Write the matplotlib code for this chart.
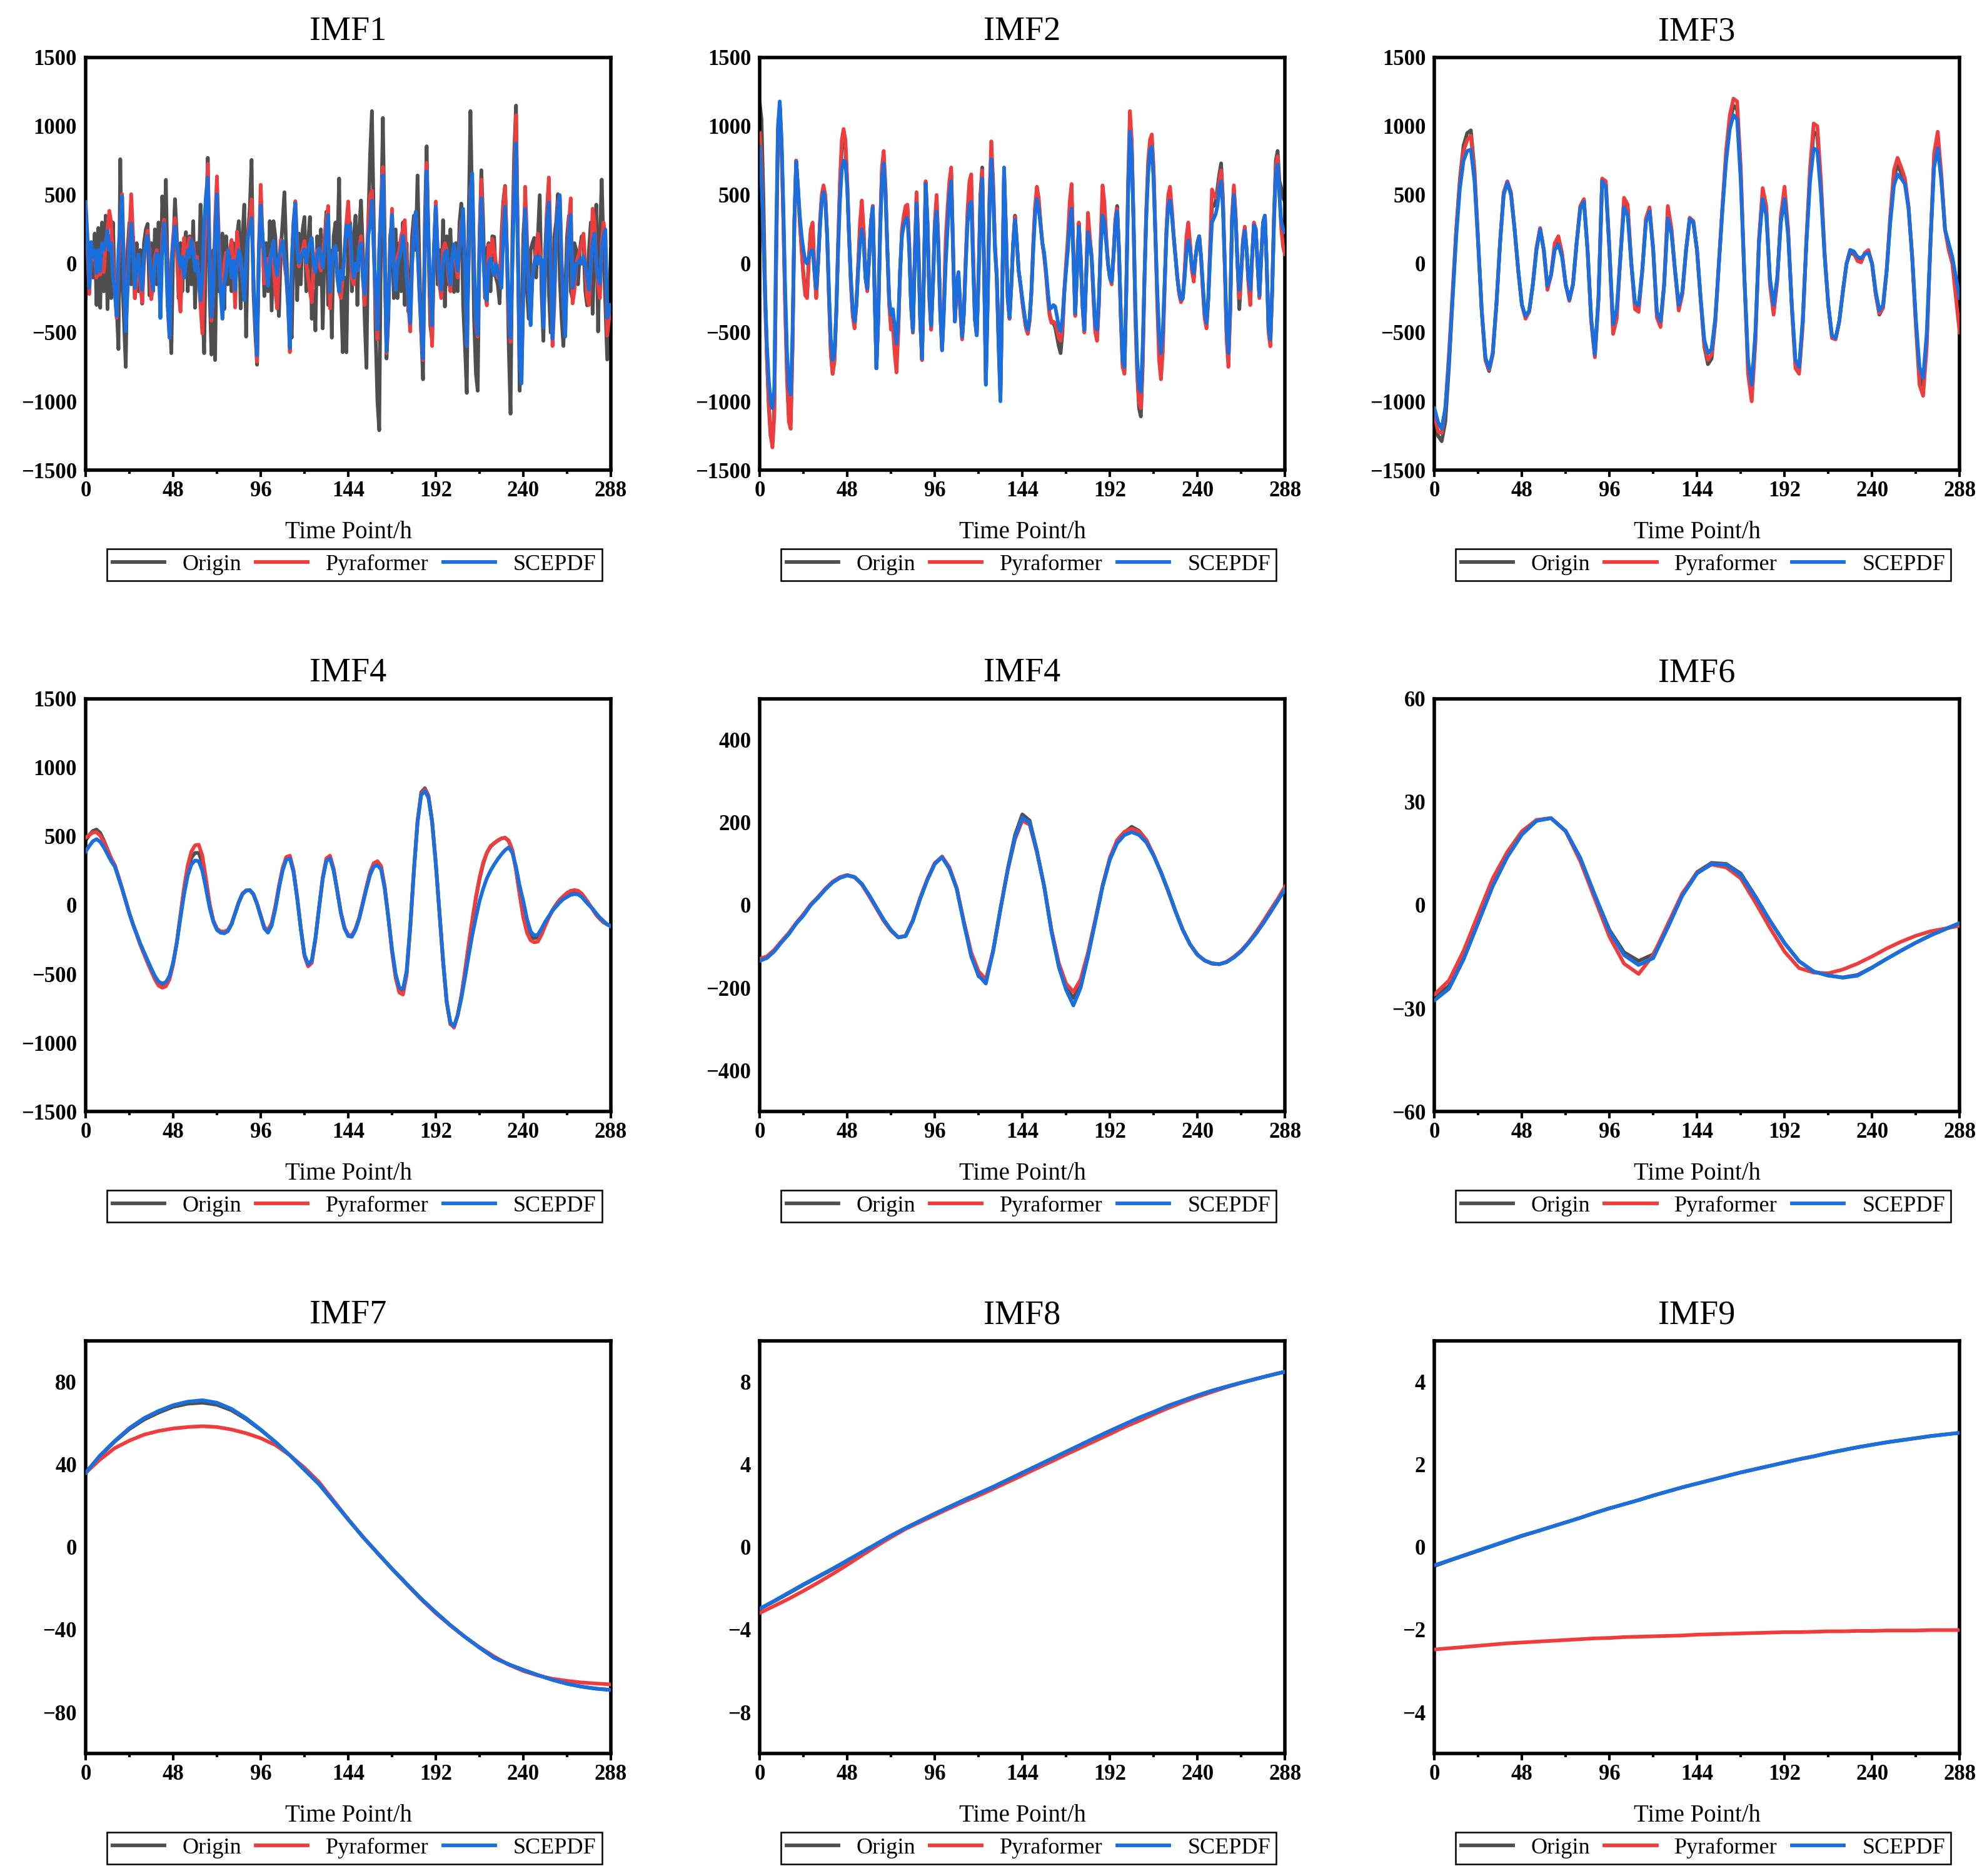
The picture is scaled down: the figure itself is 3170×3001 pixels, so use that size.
import numpy as np
import matplotlib.pyplot as plt
from matplotlib.ticker import MultipleLocator

plt.rcParams['font.family'] = ['Liberation Serif', 'DejaVu Serif']
plt.rcParams['font.weight'] = 'bold'

c_origin = '#4f4f4f'
c_pyra = '#ef3d3d'
c_scepdf = '#1a6fdf'

# ---------------- IMF1 (hourly, t = 0..288) ----------------
imf1_origin = [
    -250, 100, -150, 150, -100, 220, -300, 260, -320, 300, -200, 350,
    -330, 200, -250, 300, -200, -300, -620, 760, -100, -400, -750, 100,
    300, -150, 200, -250, 150, -200, 100, -290, 150, 250, 290, -230,
    150, -200, 250, -150, 300, -390, 490, 100, 610, -100, -300, -650,
    100, 470, 200, -250, 150, -200, 100, 230, -200, 200, -150, 310,
    -320, 150, -100, 430, -300, -650, 200, 770, -200, -660, 100, -700,
    300, -200, 150, 220, -330, 200, -150, 100, -200, 150, -250, 200,
    310, -325, 200, 430, -530, 200, 400, 755, -200, -500, -734, 100,
    350, 200, -235, 150, -200, 310, -340, 310, 200, -150, -380, 100,
    300, 520, 100, -250, -400, -537, 100, 350, -265, 219, -150, 250,
    340, -200, 150, 340, -400, -200, -485, 200, -150, 250, -470, 150,
    378, -300, 100, -537, 200, 300, 100, 620, -200, -643, -100, -644,
    200, 300, -200, 200, 350, -300, 250, 460, 100, -400, -757, 300,
    800, 1110, 300, -500, -1000, -1210, 300, 1060, 200, -689, -400, 200,
    300, -250, 250, -250, 150, -200, 300, -300, 150, -350, -200, 200,
    350, 100, 642, 0, -500, -840, 300, 854, 100, -450, -550, 100,
    400, -150, 100, -200, 317, -311, 200, -150, 250, -100, -205, 150,
    -200, 300, 438, -300, -600, -939, 300, 1110, 400, -400, -800, -923,
    200, 680, 300, -250, 100, 150, -200, 200, 196, -100, -150, -288,
    200, 450, 566, 100, -600, -1090, 200, 800, 1150, 100, -923, -500,
    200, 450, -200, -400, 100, 150, 188, -100, 200, 499, -200, -560,
    100, 400, -200, -500, -300, 200, 300, 506, -100, -400, -598, -200,
    200, 350, -200, -250, 150, 100, -150, 100, 200, 150, -200, -303,
    100, 300, -364, 100, 430, -492, 200, 612, 100, -300, -696, -300,
    100]
imf1_pyra = [
    300, 100, -220, 80, 30, 60, -100, 50, -80, 40, -60, 150,
    250, 385, 300, 0, -200, -394, 0, 250, 506, 0, -450, -150,
    200, 506, 200, -250, -100, 50, -150, -280, 0, 150, 241, 100,
    -258, -150, 50, 100, 0, -300, 200, 320, 150, -300, -537, 0,
    200, 332, 100, -200, -348, 0, 188, 50, 100, 188, 100, 150,
    0, 50, -100, -300, -507, 0, 400, 726, 100, -416, -200, 300,
    635, 200, -150, -300, 0, 82, 50, 100, 173, 0, -318, 234,
    100, 0, -100, -250, 0, 200, 300, 468, -100, -400, -711, 100,
    574, 200, -144, 0, 37, 37, 100, 0, -200, -325, 0, 173,
    100, 0, -100, -300, -643, 0, 300, 455, 150, -20, 50, 100,
    166, 0, -100, -200, -280, 0, 50, 100, 0, -50, 50, 200,
    300, 420, -325, 0, 100, 113, -50, -200, -250, -100, 100, 300,
    453, 200, -100, -150, 0, -50, 100, 200, -100, -300, 0, 300,
    500, 530, 100, -300, -550, 100, 450, 703, 0, -650, -300, 100,
    400, 0, -150, 50, 100, 200, 250, 317, 0, -300, -492, 0,
    250, 378, 150, -200, -500, -700, 150, 733, 200, -300, -598, 100,
    453, 100, -150, -250, 100, 150, 100, -100, -200, 50, 100, 0,
    -100, 150, 300, 350, 0, -600, 0, 550, 600, 0, -450, -530,
    200, 612, 100, -200, -303, 135, 50, 181, 100, 0, -100, -50,
    100, 400, 560, 100, -400, -568, 0, 600, 1080, 200, -700, -850,
    -200, 560, 200, -200, -400, -100, 0, 100, 219, 100, 0, -400,
    0, 400, 627, 100, -598, -300, 200, 450, 480, 0, -300, -500,
    0, 300, 476, -288, -200, 0, 50, 100, 150, 219, 0, -250,
    -300, 0, 400, 300, 0, -150, -250, 150, 300, 200, -522, -400,
    -300]
imf1_scepdf = [
    450, 200, -175, 158, 50, 100, -68, 100, -50, 150, 100, 150,
    241, 100, 150, -100, -200, -380, 100, 300, 490, -100, -492, -200,
    100, 294, 100, -175, 0, 67, -100, -190, 50, 150, 203, 50,
    -100, -190, 0, 75, 50, -394, 100, 294, 100, -300, -537, 0,
    150, 272, 150, 50, -23, 50, -100, 0, 100, 50, 173, 100,
    -50, 22, -100, -265, -100, 300, 500, 627, 0, -386, -200, 200,
    506, 100, -200, -400, -150, -68, 100, 22, -100, 22, -190, 0,
    100, 52, -100, -265, 0, 200, 250, 332, -100, -400, -666, 100,
    423, 200, 71, -50, -160, 0, 100, 166, 0, -84, 50, 100,
    166, 50, -54, -300, -613, 0, 300, 438, 100, 7, 50, 80,
    105, 7, 100, 150, 188, 0, -60, 50, 113, 50, -30, 100,
    250, 355, -205, 0, 100, 128, -100, -205, -50, -114, 100, 280,
    200, 280, 7, -100, 0, -50, 100, 150, -100, -220, 0, 200,
    300, 460, 100, -200, -477, 100, 400, 642, 0, -636, -300, 100,
    355, 0, -190, 0, 37, 100, 203, 100, -100, -250, -432, 0,
    200, 378, 100, -200, -450, -689, 100, 672, 200, -200, -447, 100,
    415, 100, -100, -190, 0, 80, 97, -50, -150, 50, 143, 50,
    -50, 100, 250, 400, 0, -598, 0, 500, 657, 0, -400, -515,
    100, 476, 100, -200, -265, 0, 37, -30, -84, 0, -50, -100,
    -175, 200, 415, 100, -300, -537, 0, 500, 877, 100, -700, -870,
    -200, 400, 100, -200, -447, -100, 0, 52, 0, 50, 30, -462,
    0, 300, 446, 0, -545, -200, 200, 400, 499, 0, -300, -530,
    0, 200, 355, -175, -100, 0, 7, 30, 0, 52, 0, -100,
    -190, 0, 150, 219, 0, -100, -144, 100, 200, 249, -394, -350,
    -300]

# ---------------- IMF2 (hourly) ----------------
imf2_origin = [
    1170, 1050, 500, -200, -700, -1050, -1250, -1300, -1050, 0, 950, 1150,
    850, 300, -300, -800, -1100, -1150, -600, 300, 750, 550, 300, 100,
    -80, -200, -220, 50, 230, 280, -50, -230, 0, 280, 480, 550,
    480, 200, -250, -650, -800, -700, -350, 130, 560, 830, 900, 850,
    580, 200, -130, -360, -450, -300, -20, 250, 400, 220, -100, -190,
    50, 300, 420, -200, -760, -400, 230, 660, 780, 530, 100, -280,
    -440, -400, -580, -720, -460, -50, 230, 320, 380, 400, 130, -300,
    -500, 30, 490, 130, -400, -700, -100, 590, 300, -230, -470, -150,
    280, 450, 130, -350, -620, -320, 100, 330, 550, 660, 130, -420,
    -180, -80, -330, -540, -350, 30, 360, 530, 560, 60, -400, -520,
    -100, 500, 700, 0, -860, -270, 460, 830, 560, 130, -100, -570,
    -970, -200, 670, 250, -250, -400, -150, 150, 350, 160, -50, -150,
    -270, -370, -460, -500, -410, -200, 130, 390, 520, 450, 290, 150,
    60, -70, -230, -370, -420, -430, -460, -530, -600, -650, -500, -220,
    -20, 150, 380, 500, 80, -370, -50, 290, 50, -300, -490, -100,
    300, 180, 50, -230, -480, -530, -280, 150, 470, 380, 180, 0,
    -100, -140, 60, 320, 420, 100, -380, -730, -780, -200, 550, 1040,
    850, 300, -350, -800, -1050, -1110, -750, -100, 380, 700, 860, 900,
    650, 200, -250, -600, -750, -580, -180, 230, 460, 510, 380, 200,
    50, -100, -210, -270, -250, -80, 150, 240, 130, -40, -100, 50,
    150, 200, 50, -180, -380, -450, -250, 100, 420, 420, 450, 550,
    650, 730, 480, 0, -500, -700, -330, 330, 540, 330, 0, -330,
    -80, 160, 250, 100, -130, -250, 50, 290, 250, 0, -240, 50,
    300, 350, 0, -480, -580, -200, 330, 750, 820, 600, 550, 480,
    450]
imf2_pyra = [
    950, 700, 250, -300, -700, -1000, -1250, -1335, -1100, 0, 950, 1150,
    850, 300, -350, -850, -1150, -1200, -600, 300, 750, 550, 300, 100,
    -100, -230, -250, 50, 250, 300, -50, -250, 0, 300, 500, 570,
    500, 200, -250, -650, -800, -700, -350, 150, 600, 900, 980, 900,
    600, 200, -150, -380, -470, -300, 0, 300, 460, 250, -100, -200,
    50, 300, 420, -200, -760, -400, 250, 700, 820, 550, 100, -300,
    -480, -450, -650, -790, -500, -50, 250, 350, 420, 430, 150, -300,
    -500, 50, 520, 150, -400, -700, -100, 600, 300, -250, -480, -150,
    300, 500, 150, -350, -620, -300, 180, 400, 600, 700, 150, -420,
    -200, -100, -350, -550, -350, 50, 400, 600, 650, 100, -400, -520,
    -100, 450, 680, 0, -850, -250, 500, 890, 600, 150, -100, -550,
    -950, -200, 650, 250, -250, -400, -150, 150, 340, 150, -50, -150,
    -280, -380, -470, -510, -420, -200, 150, 420, 560, 480, 300, 150,
    50, -80, -250, -380, -430, -420, -430, -480, -540, -560, -450, -200,
    0, 200, 450, 580, 100, -380, -50, 300, 50, -300, -500, -100,
    370, 200, 50, -250, -500, -560, -300, 200, 570, 450, 200, 0,
    -100, -150, 50, 300, 400, 100, -400, -750, -800, -200, 600, 1110,
    900, 300, -400, -800, -1000, -1050, -700, -100, 400, 750, 900, 940,
    700, 200, -300, -700, -840, -650, -200, 250, 500, 560, 400, 200,
    50, -100, -220, -280, -250, -50, 200, 300, 150, -50, -130, 50,
    150, 200, 50, -200, -400, -470, -250, 150, 540, 500, 480, 500,
    600, 680, 450, 0, -550, -750, -350, 350, 570, 350, 0, -250,
    -50, 180, 270, 100, -150, -300, 50, 300, 250, 0, -250, 50,
    300, 350, 0, -500, -600, -200, 350, 700, 780, 500, 250, 120,
    70]
imf2_scepdf = [
    850, 600, 200, -250, -600, -850, -1000, -1050, -900, 200, 1000, 1180,
    900, 400, -200, -650, -900, -950, -500, 300, 740, 550, 350, 200,
    100, 20, 0, 50, 90, 100, -50, -180, 0, 250, 450, 520,
    450, 200, -200, -550, -700, -650, -350, 100, 450, 680, 750, 740,
    550, 200, -100, -330, -420, -300, -50, 150, 250, 150, -100, -180,
    50, 300, 410, -200, -760, -400, 200, 600, 730, 500, 100, -250,
    -370, -330, -450, -580, -400, -50, 200, 280, 320, 330, 100, -300,
    -490, 0, 440, 100, -400, -690, -100, 580, 300, -200, -450, -150,
    250, 380, 100, -350, -630, -350, 0, 250, 480, 600, 100, -420,
    -150, -60, -300, -530, -350, 0, 300, 430, 450, 0, -400, -520,
    -100, 400, 620, 0, -880, -300, 400, 760, 500, 100, -100, -600,
    -1000, -200, 700, 250, -250, -390, -150, 150, 320, 150, -50, -150,
    -250, -350, -440, -480, -400, -200, 100, 350, 470, 400, 280, 150,
    80, -50, -200, -330, -320, -300, -310, -380, -460, -490, -400, -200,
    -50, 100, 300, 400, 50, -360, -50, 270, 50, -300, -480, -100,
    230, 150, 50, -200, -450, -480, -250, 100, 350, 300, 150, 0,
    -100, -130, 50, 280, 380, 100, -350, -700, -750, -200, 500, 960,
    800, 300, -300, -700, -900, -930, -600, -100, 350, 650, 820, 850,
    600, 200, -200, -500, -650, -500, -150, 200, 420, 460, 350, 200,
    50, -100, -200, -260, -250, -100, 80, 170, 100, -20, -70, 50,
    150, 200, 50, -150, -350, -430, -250, 50, 300, 330, 360, 420,
    550, 600, 400, 0, -450, -650, -300, 300, 500, 300, 0, -190,
    -50, 150, 240, 100, -100, -190, 50, 280, 250, 0, -230, 50,
    300, 350, 0, -450, -550, -200, 300, 650, 720, 500, 300, 250,
    230]

# ---------------- IMF3 (every 2 h) ----------------
imf3_origin = [
    -1110, -1250, -1290, -1150, -750, -250, 250, 620, 860, 950, 970, 680,
    170, -350, -700, -780, -660, -300, 150, 510, 595, 510, 250, -50,
    -300, -390, -345, -150, 110, 255, 100, -175, -80, 125, 170, 65,
    -150, -265, -150, 150, 410, 460, 100, -410, -670, -250, 610, 580,
    100, -475, -365, 50, 445, 390, 0, -305, -325, -50, 315, 395,
    100, -370, -440, -150, 375, 240, -55, -320, -210, 100, 330, 305,
    100, -260, -600, -730, -690, -430, 0, 415, 790, 1030, 1150, 1120,
    650, -100, -750, -950, -540, 165, 510, 385, -125, -335, -115, 325,
    515, 225, -310, -730, -775, -425, 165, 650, 960, 930, 550, 65,
    -300, -530, -545, -420, -200, 0, 80, 70, 30, 20, 75, 90,
    0, -220, -370, -320, -50, 330, 630, 720, 660, 600, 410, 50,
    -420, -820, -900, -550, 150, 750, 900, 620, 250, 120, 20, -180,
    -380]
imf3_pyra = [
    -1100, -1220, -1230, -1050, -650, -200, 250, 600, 820, 900, 930, 650,
    150, -350, -700, -770, -650, -300, 150, 520, 600, 520, 250, -50,
    -300, -400, -350, -150, 120, 260, 100, -190, -80, 150, 200, 80,
    -150, -270, -150, 150, 420, 470, 100, -420, -680, -250, 620, 600,
    100, -510, -400, 50, 480, 430, 0, -330, -350, -50, 330, 410,
    100, -390, -460, -150, 420, 260, -60, -340, -220, 100, 335, 310,
    100, -250, -580, -700, -660, -420, 0, 430, 830, 1080, 1200, 1180,
    700, -100, -800, -1000, -580, 180, 550, 420, -150, -370, -130, 350,
    560, 250, -320, -760, -800, -450, 180, 700, 1020, 1000, 600, 80,
    -300, -540, -550, -420, -200, 0, 100, 80, 20, 10, 80, 100,
    0, -220, -360, -320, -50, 350, 680, 770, 700, 620, 420, 50,
    -450, -880, -960, -600, 150, 800, 960, 650, 250, 100, 0, -250,
    -500]
imf3_scepdf = [
    -1050, -1150, -1200, -1050, -700, -250, 200, 550, 750, 820, 830, 600,
    150, -350, -680, -760, -650, -300, 150, 500, 590, 500, 250, -50,
    -300, -380, -340, -150, 100, 250, 100, -160, -80, 100, 140, 50,
    -150, -260, -150, 150, 400, 450, 100, -400, -660, -250, 600, 560,
    100, -440, -330, 50, 410, 350, 0, -280, -300, -50, 300, 380,
    100, -350, -420, -150, 330, 220, -50, -300, -200, 100, 325, 300,
    100, -250, -550, -650, -620, -400, 0, 400, 750, 980, 1080, 1050,
    600, -100, -700, -880, -500, 150, 470, 350, -100, -300, -100, 300,
    470, 200, -300, -700, -750, -400, 150, 600, 840, 820, 500, 50,
    -300, -520, -540, -420, -200, 0, 100, 90, 50, 40, 70, 80,
    0, -200, -340, -300, -50, 300, 570, 650, 620, 580, 400, 50,
    -400, -750, -830, -500, 150, 700, 840, 600, 250, 150, 50, -100,
    -250]

# ---------------- IMF4 (every 2 h) ----------------
imf4_origin = [
    470, 510, 540, 550, 525, 470, 405, 340, 290, 205, 120, 30,
    -60, -140, -210, -285, -350, -415, -475, -530, -570, -585, -575, -530,
    -425, -270, -75, 115, 260, 345, 380, 380, 310, 160, 0, -115,
    -175, -195, -198, -185, -138, -58, 22, 83, 106, 110, 80, 10,
    -78, -165, -190, -140, -20, 130, 260, 340, 350, 248, 55, -170,
    -365, -440, -410, -245, -20, 195, 330, 350, 258, 102, -58, -168,
    -220, -225, -175, -95, 15, 128, 235, 300, 315, 280, 130, -90,
    -330, -515, -620, -630, -495, -160, 250, 610, 820, 850, 795, 610,
    305, -50, -405, -705, -865, -885, -800, -665, -490, -300, -120, 50,
    190, 300, 380, 425, 450, 470, 485, 490, 465, 395, 255, 80,
    -80, -180, -230, -240, -235, -195, -140, -85, -35, 5, 40, 65,
    85, 100, 102, 98, 78, 45, 8, -30, -70, -100, -125, -140,
    -150]
imf4_pyra = [
    490, 510, 528, 530, 505, 460, 400, 340, 290, 210, 120, 30,
    -60, -140, -215, -290, -355, -420, -480, -540, -585, -600, -590, -540,
    -430, -270, -70, 130, 290, 390, 435, 440, 360, 190, 10, -110,
    -170, -190, -192, -180, -135, -55, 25, 85, 108, 110, 80, 10,
    -75, -160, -182, -130, -10, 140, 270, 350, 360, 255, 60, -170,
    -370, -445, -420, -250, -20, 200, 340, 360, 265, 105, -55, -165,
    -215, -220, -170, -90, 20, 135, 240, 305, 320, 285, 135, -90,
    -340, -530, -635, -650, -510, -165, 250, 610, 810, 840, 790, 610,
    310, -50, -410, -710, -860, -890, -800, -660, -480, -290, -110, 60,
    200, 310, 380, 430, 450, 470, 485, 490, 470, 400, 260, 80,
    -90, -200, -255, -270, -265, -215, -150, -90, -40, 0, 35, 65,
    90, 105, 110, 105, 85, 50, 10, -30, -70, -100, -125, -140,
    -150]
imf4_scepdf = [
    390, 430, 465, 480, 460, 420, 370, 320, 280, 200, 120, 30,
    -60, -140, -210, -280, -340, -400, -460, -515, -555, -570, -560, -515,
    -415, -275, -95, 80, 215, 295, 325, 320, 250, 120, -20, -120,
    -180, -200, -205, -190, -140, -60, 20, 80, 105, 110, 80, 10,
    -80, -170, -200, -150, -30, 120, 250, 330, 340, 240, 50, -170,
    -360, -430, -400, -240, -20, 190, 320, 340, 250, 100, -60, -170,
    -225, -230, -180, -100, 10, 120, 220, 280, 290, 260, 120, -90,
    -320, -500, -600, -610, -480, -150, 250, 600, 800, 830, 780, 600,
    300, -50, -400, -700, -850, -880, -800, -680, -530, -370, -220, -90,
    30, 120, 195, 250, 295, 335, 370, 400, 420, 380, 280, 140,
    30, -100, -190, -220, -215, -170, -120, -80, -40, -10, 20, 44,
    60, 75, 80, 78, 60, 30, 0, -25, -60, -90, -115, -140,
    -155]

# ---------------- IMF5 (titled IMF4 in the figure, every 4 h) ----------------
imf5_origin = [
    -132, -126, -110, -88, -68, -44, -23, 1, 19, 39, 56, 67,
    73, 68, 51, 23, -7, -37, -61, -78, -75, -37, 17, 63,
    101, 117, 90, 41, -43, -120, -172, -185, -112, -10, 88, 170,
    220, 205, 132, 46, -62, -145, -200, -225, -190, -120, -38, 46,
    113, 155, 176, 190, 180, 158, 121, 80, 34, -15, -60, -95,
    -120, -134, -141, -143, -138, -126, -111, -91, -68, -42, -15, 12,
    40]
imf5_pyra = [
    -130, -124, -108, -87, -67, -43, -22, 2, 20, 40, 57, 68,
    73, 68, 50, 22, -8, -38, -62, -78, -74, -36, 18, 64,
    102, 118, 92, 42, -40, -115, -160, -180, -110, -8, 85, 160,
    205, 195, 128, 45, -60, -140, -190, -210, -180, -115, -35, 48,
    115, 158, 178, 185, 178, 158, 122, 80, 33, -15, -60, -95,
    -120, -134, -142, -143, -137, -125, -110, -90, -66, -40, -12, 15,
    45]
imf5_scepdf = [
    -135, -128, -112, -90, -70, -45, -25, 0, 18, 38, 55, 66,
    72, 68, 52, 25, -5, -35, -60, -78, -75, -38, 15, 62,
    100, 116, 88, 40, -45, -125, -170, -190, -110, -10, 85, 165,
    212, 200, 130, 45, -65, -150, -205, -243, -200, -125, -40, 45,
    110, 150, 170, 177, 170, 152, 120, 80, 35, -15, -60, -95,
    -120, -134, -141, -143, -138, -127, -112, -92, -70, -45, -18, 10,
    38]

# ---------------- IMF6 (every 8 h) ----------------
imf6_origin = [
    -26.8, -23.5, -15, -4.5, 6, 14.5, 21, 24.7, 25.3, 21.5, 13.5, 2.8,
    -7.2, -13.7, -16.2, -14.3, -6.3, 3.2, 9.6, 12.3, 12, 9.2, 2.6, -4.5,
    -11, -16.3, -19.3, -20.5, -21, -20.3, -18.1, -15.6, -13.2, -10.9, -8.8, -7,
    -5.2]
imf6_pyra = [
    -26, -21.9, -13.3, -2.7, 7.8, 15.5, 21.5, 24.8, 25.3, 21.5, 12.8, 1.8,
    -9.2, -17, -20, -14.5, -5.5, 3.5, 9.4, 11.8, 11, 7.8, 0.8, -6.6,
    -13.5, -18.3, -19.6, -19.8, -18.7, -17, -14.9, -12.6, -10.6, -8.9, -7.6, -6.8,
    -6]
imf6_scepdf = [
    -27.7, -24.3, -15.8, -5.2, 5.5, 14, 20.5, 24.5, 25.3, 21.6, 13.8, 3,
    -7.5, -14.5, -17.4, -15.4, -6.5, 2.8, 9.2, 12, 11.8, 8.8, 2.4, -4.5,
    -11, -16.3, -19.3, -20.4, -21.1, -20.5, -18.2, -15.6, -13.2, -10.9, -8.8, -7,
    -5.2]

# ---------------- IMF7 (every 8 h) ----------------
imf7_origin = [
    36, 44.3, 51.2, 57.2, 61.8, 65.2, 68, 69.5, 70, 69, 66.3, 62,
    56.8, 51, 44.5, 37.5, 30.5, 22, 13.4, 5, -2.8, -10.5, -17.8, -25,
    -31.6, -37.8, -43.5, -48.7, -53.6, -56.8, -59.5, -62, -64.3, -66.2, -67.6, -68.6,
    -69.2]
imf7_pyra = [
    36, 42.5, 48, 51.6, 54.5, 56.3, 57.5, 58.2, 58.6, 58.2, 57, 55.2,
    52.8, 49.5, 44.5, 38.5, 31.5, 22.5, 13.5, 5, -2.8, -10.5, -18, -25.3,
    -32, -38, -43.5, -48.5, -53, -57, -60, -62.2, -63.8, -64.8, -65.6, -66.1,
    -66.5]
imf7_scepdf = [
    36, 44.5, 51.5, 57.7, 62.5, 66, 68.8, 70.5, 71.2, 70, 67, 62.5,
    57, 51, 44.5, 37.5, 30.5, 22, 13.4, 5, -2.8, -10.5, -17.8, -25,
    -31.6, -37.8, -43.5, -48.7, -53.6, -56.8, -59.5, -62, -64.3, -66.2, -67.6, -68.6,
    -69.2]

# ---------------- IMF8 (every 8 h) ----------------
imf8_origin = [
    -3.0, -2.62, -2.23, -1.83, -1.45, -1.07, -0.67, -0.27, 0.14, 0.54, 0.92, 1.27,
    1.62, 1.95, 2.28, 2.6, 2.92, 3.26, 3.6, 3.94, 4.28, 4.62, 4.96, 5.3,
    5.63, 5.95, 6.27, 6.55, 6.85, 7.1, 7.35, 7.58, 7.78, 7.97, 8.15, 8.33,
    8.5]
imf8_pyra = [
    -3.19, -2.85, -2.5, -2.12, -1.72, -1.3, -0.86, -0.4, 0.05, 0.48, 0.88, 1.22,
    1.55, 1.88, 2.2, 2.5, 2.82, 3.15, 3.48, 3.82, 4.15, 4.49, 4.82, 5.15,
    5.48, 5.82, 6.12, 6.44, 6.74, 7.02, 7.28, 7.52, 7.75, 7.96, 8.15, 8.33,
    8.5]
imf8_scepdf = [
    -2.98, -2.6, -2.2, -1.8, -1.42, -1.04, -0.64, -0.24, 0.16, 0.56, 0.93, 1.28,
    1.62, 1.95, 2.28, 2.6, 2.92, 3.26, 3.6, 3.94, 4.28, 4.62, 4.96, 5.3,
    5.63, 5.95, 6.27, 6.55, 6.85, 7.1, 7.35, 7.58, 7.78, 7.97, 8.15, 8.33,
    8.5]

# ---------------- IMF9 (every 8 h) ----------------
imf9_origin = [
    -0.46, -0.33, -0.21, -0.09, 0.03, 0.15, 0.27, 0.38, 0.49, 0.6, 0.71, 0.83,
    0.94, 1.04, 1.14, 1.25, 1.35, 1.45, 1.54, 1.63, 1.72, 1.81, 1.89, 1.97,
    2.05, 2.13, 2.2, 2.28, 2.35, 2.42, 2.48, 2.54, 2.59, 2.64, 2.69, 2.73,
    2.77]
imf9_pyra = [
    -2.48, -2.45, -2.42, -2.39, -2.36, -2.33, -2.31, -2.29, -2.27, -2.25, -2.23, -2.21,
    -2.2, -2.18, -2.17, -2.16, -2.15, -2.14, -2.12, -2.11, -2.1, -2.09, -2.08, -2.07,
    -2.06, -2.06, -2.05, -2.04, -2.04, -2.03, -2.03, -2.02, -2.02, -2.02, -2.01, -2.01,
    -2.01]
imf9_scepdf = [
    -0.44, -0.32, -0.2, -0.08, 0.04, 0.16, 0.28, 0.38, 0.49, 0.6, 0.71, 0.83,
    0.94, 1.04, 1.14, 1.25, 1.35, 1.45, 1.54, 1.63, 1.72, 1.81, 1.89, 1.97,
    2.05, 2.13, 2.2, 2.28, 2.35, 2.42, 2.48, 2.54, 2.59, 2.64, 2.69, 2.73,
    2.77]

titles = ['IMF1', 'IMF2', 'IMF3', 'IMF4', 'IMF4', 'IMF6', 'IMF7', 'IMF8', 'IMF9']
steps = [1, 1, 2, 2, 4, 8, 8, 8, 8]   # hours between samples
series = [
    (imf1_origin, imf1_pyra, imf1_scepdf),
    (imf2_origin, imf2_pyra, imf2_scepdf),
    (imf3_origin, imf3_pyra, imf3_scepdf),
    (imf4_origin, imf4_pyra, imf4_scepdf),
    (imf5_origin, imf5_pyra, imf5_scepdf),
    (imf6_origin, imf6_pyra, imf6_scepdf),
    (imf7_origin, imf7_pyra, imf7_scepdf),
    (imf8_origin, imf8_pyra, imf8_scepdf),
    (imf9_origin, imf9_pyra, imf9_scepdf),
]
ylims = [1500, 1500, 1500, 1500, 500, 60, 100, 10, 5]
ytick_sets = [
    [-1500, -1000, -500, 0, 500, 1000, 1500],
    [-1500, -1000, -500, 0, 500, 1000, 1500],
    [-1500, -1000, -500, 0, 500, 1000, 1500],
    [-1500, -1000, -500, 0, 500, 1000, 1500],
    [-400, -200, 0, 200, 400],
    [-60, -30, 0, 30, 60],
    [-80, -40, 0, 40, 80],
    [-8, -4, 0, 4, 8],
    [-4, -2, 0, 2, 4],
]
labels = ['Origin', 'Pyraformer', 'SCEPDF']
colors = [c_origin, c_pyra, c_scepdf]

fig = plt.figure(figsize=(15.85, 15.005), dpi=200)
lefts = [0.0432, 0.3833, 0.7237]
bottoms = [0.7494, 0.4075, 0.0653]
w, h = 0.2650, 0.2200

for i in range(9):
    ax = fig.add_axes([lefts[i % 3], bottoms[i // 3], w, h])
    for k, (vals, col, lab) in enumerate(zip(series[i], colors, labels)):
        x = np.arange(len(vals)) * steps[i]
        ax.plot(x, vals, color=col, lw=2.1, label=lab, zorder=2 + k,
                solid_joinstyle='round')

    ax.set_xlim(0, 288)
    ax.set_ylim(-ylims[i], ylims[i])
    ax.set_xticks(np.arange(0, 289, 48))
    ax.xaxis.set_minor_locator(MultipleLocator(24))
    ax.set_yticks(ytick_sets[i])
    ax.tick_params(axis='x', which='major', direction='out', length=4, width=1.5,
                   pad=2, labelsize=12.5)
    ax.tick_params(axis='x', which='minor', direction='out', length=2, width=1.5)
    ax.tick_params(axis='y', which='both', length=0, pad=5, labelsize=12.5)
    for sp in ax.spines.values():
        sp.set_linewidth(2.0)

    ax.set_title(titles[i], fontsize=19.5, fontweight='normal', pad=10)
    ax.set_xlabel('Time Point/h', fontsize=14, fontweight='normal')
    ax.xaxis.set_label_coords(0.5, -0.122)

    leg = ax.legend(loc='center', bbox_to_anchor=(0.040, -0.229, 0.943, 0.0),
                    mode='expand', ncol=3, frameon=True, fancybox=False,
                    edgecolor='black', framealpha=1,
                    prop={'size': 13, 'weight': 'normal'},
                    handlelength=2.3, handletextpad=0.8, borderpad=0.25,
                    borderaxespad=0)
    leg.get_frame().set_linewidth(0.9)
    for ln in leg.get_lines():
        ln.set_linewidth(2.1)

fig.savefig('out.png', dpi=200)
